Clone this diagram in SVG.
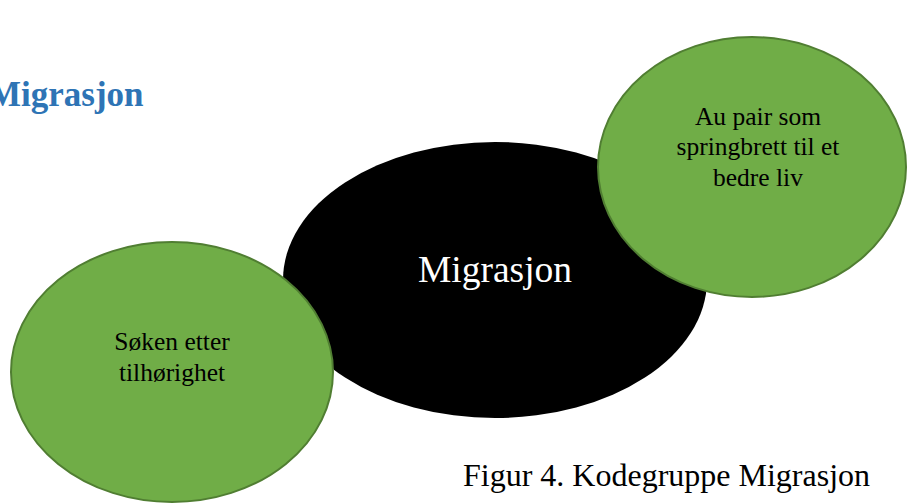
<svg xmlns="http://www.w3.org/2000/svg" width="907" height="503" viewBox="0 0 907 503">
<style>
.t{font-family:"Liberation Serif","Times New Roman",serif;}
.g{fill:#70ad47;stroke:#507e32;stroke-width:2;}
.lbl{font-size:25.5px;fill:#000;text-anchor:middle;}
</style>
<rect width="907" height="503" fill="#fff"/>
<text class="t" x="-12" y="106" font-size="35" font-weight="bold" fill="#2e74b5">Migrasjon</text>
<g id="connectors"></g>
<g id="center">
<ellipse cx="495" cy="280" rx="212" ry="138" fill="#000"/>
<text class="t" x="495" y="282" font-size="37.5" fill="#fff" text-anchor="middle">Migrasjon</text>
</g>
<g id="node-aupair">
<ellipse class="g" cx="752" cy="167" rx="154" ry="130"/>
<text class="t lbl" x="758" y="125">Au pair som</text>
<text class="t lbl" x="758" y="155">springbrett til et</text>
<text class="t lbl" x="758" y="186">bedre liv</text>
</g>
<g id="node-soken">
<ellipse class="g" cx="172" cy="372" rx="161" ry="130"/>
<text class="t lbl" x="172" y="350">Søken etter</text>
<text class="t lbl" x="172" y="381">tilhørighet</text>
</g>
<text class="t" x="463" y="486" font-size="32" fill="#000">Figur 4. Kodegruppe Migrasjon</text>
</svg>
